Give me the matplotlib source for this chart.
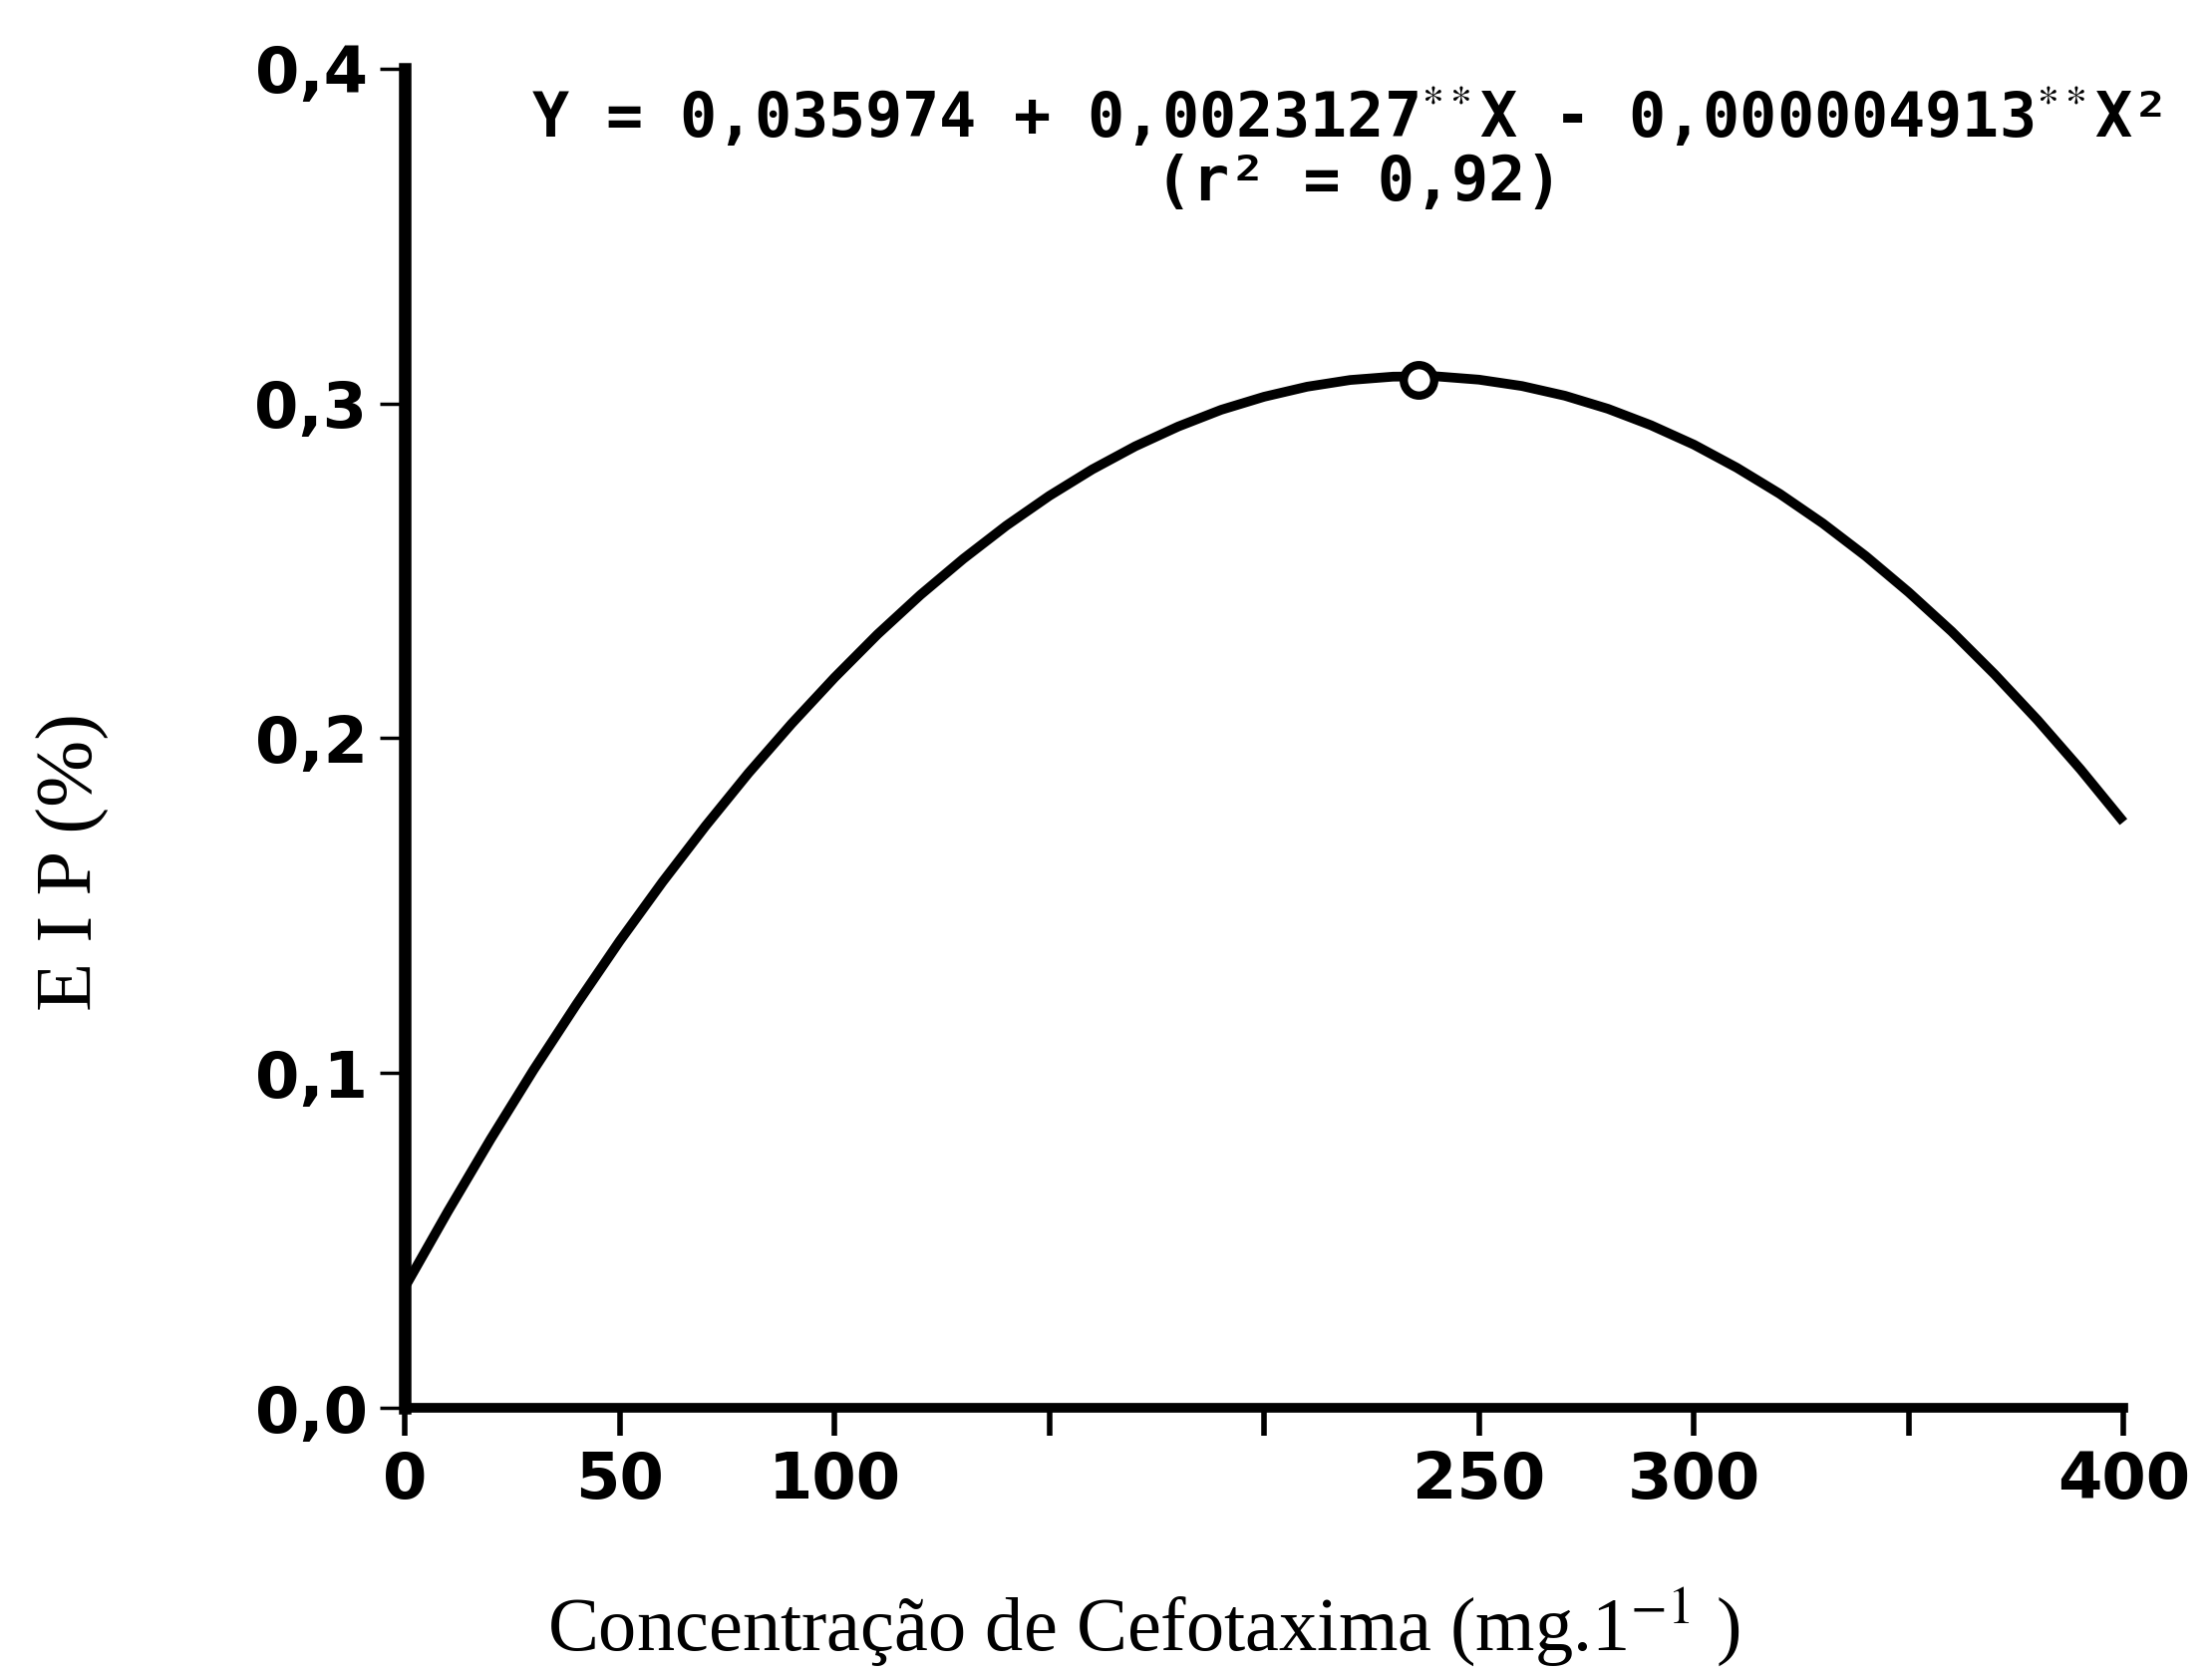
import matplotlib.pyplot as plt
from matplotlib.ticker import FixedLocator, FuncFormatter

plt.rcParams['mathtext.fontset'] = 'stix'

# Valores (curva ajustada)
conc = [0, 10, 20, 30, 40, 50, 60, 70, 80, 90, 100, 110, 120, 130, 140, 150, 160, 170, 180, 190, 200,
        210, 220, 230, 240, 250, 260, 270, 280, 290, 300, 310, 320, 330, 340, 350, 360, 370, 380, 390, 400]
eip = [0.0360, 0.0586, 0.0803, 0.1010, 0.1206, 0.1394, 0.1571, 0.1738, 0.1896, 0.2043, 0.2181,
       0.2310, 0.2428, 0.2536, 0.2635, 0.2724, 0.2803, 0.2872, 0.2931, 0.2981, 0.3020,
       0.3050, 0.3070, 0.3080, 0.3081, 0.3071, 0.3052, 0.3023, 0.2984, 0.2935, 0.2877,
       0.2808, 0.2730, 0.2642, 0.2544, 0.2436, 0.2319, 0.2191, 0.2054, 0.1907, 0.1750]

# Ponto de máximo
x_max = [236]
y_max = [0.307]

x_ticks = [0, 50, 100, 150, 200, 250, 300, 350, 400]
x_labels = ['0', '50', '100', '', '', '250', '300', '', '400']
y_ticks = [0.0, 0.1, 0.2, 0.3, 0.4]

fig = plt.figure(figsize=(22.19, 16.79), dpi=100)
ax = fig.add_axes([0.183, 0.159, 0.777, 0.8])

ax.plot(conc, eip, color='black', linewidth=7, clip_on=False, solid_capstyle='butt')
ax.plot(x_max, y_max, 'o', markersize=22, markerfacecolor='white',
        markeredgecolor='black', markeredgewidth=6, clip_on=False, zorder=5)

ax.set_xlim(0, 400)
ax.set_ylim(0, 0.4)

ax.spines['top'].set_visible(False)
ax.spines['right'].set_visible(False)
ax.spines['left'].set_linewidth(9)
ax.spines['bottom'].set_linewidth(7)

ax.xaxis.set_major_locator(FixedLocator(x_ticks))
ax.set_xticklabels(x_labels)
ax.yaxis.set_major_locator(FixedLocator(y_ticks))
ax.yaxis.set_major_formatter(FuncFormatter(lambda v, p: f"{v:.1f}".replace('.', ',')))

ax.tick_params(axis='x', direction='out', length=20, width=4, pad=10)
ax.tick_params(axis='y', direction='out', length=18, width=2.5, pad=9)
for lab in ax.get_xticklabels() + ax.get_yticklabels():
    lab.set_fontfamily('DejaVu Sans')
    lab.set_fontweight('bold')
    lab.set_fontsize(46)

ax.set_xlabel('Concentração de Cefotaxima (mg.1$^{-1}$ )', family='Liberation Serif',
              fontsize=55)
ax.xaxis.set_label_coords(0.43, -0.133)
ax.set_ylabel('E I P (%)', family='Liberation Serif', fontsize=58)
ax.yaxis.set_label_coords(-0.172, 0.408)

# Equação de regressão
ax.text(0.548, 0.963, 'Y = 0,035974 + 0,0023127$^{**}$X - 0,000004913$^{**}$X²',
        transform=ax.transAxes, ha='center', va='center', family='DejaVu Sans Mono',
        fontweight='bold', fontsize=44.5)
ax.text(0.555, 0.914, '(r² = 0,92)', transform=ax.transAxes, ha='center',
        va='center', family='DejaVu Sans Mono', fontweight='bold', fontsize=44.5)

fig.savefig('out.png', dpi=100)
